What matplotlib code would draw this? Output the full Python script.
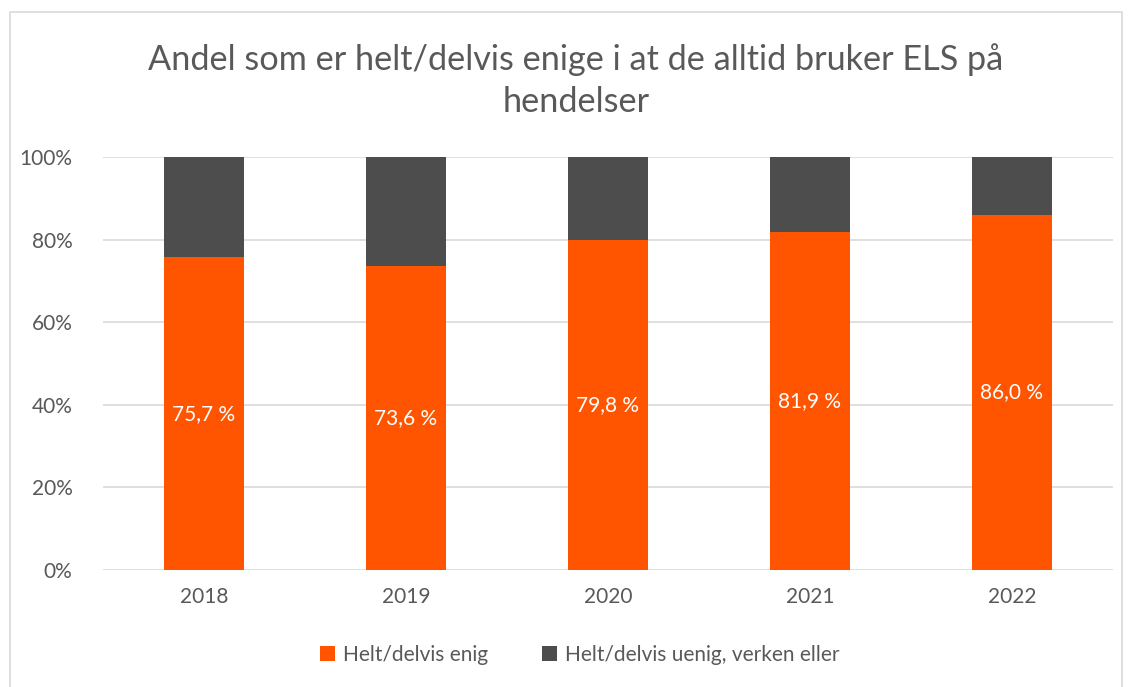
import matplotlib.pyplot as plt
from matplotlib.patches import Rectangle

years = ["2018", "2019", "2020", "2021", "2022"]
enig = [75.7, 73.6, 79.8, 81.9, 86.0]
uenig = [100 - v for v in enig]
labels = ["75,7 %", "73,6 %", "79,8 %", "81,9 %", "86,0 %"]
yticks = [0, 20, 40, 60, 80, 100]

plt.rcParams['font.family'] = ['Lato', 'DejaVu Sans']
txt = '#595959'

fig = plt.figure(figsize=(11.33, 6.87), dpi=100)
# outer chart border
fig.patches.append(Rectangle((10/1133, -0.01), 1112/1133, 675/687 + 0.01, transform=fig.transFigure,
                             fill=False, edgecolor='#D9D9D9', linewidth=1.2))

ax = fig.add_axes([103/1133, 1 - 570/687, 1010/1133, 413/687])
x = range(len(years))
ax.bar(x, enig, width=0.4, color='#FF5500', label='Helt/delvis enig', zorder=3)
ax.bar(x, uenig, width=0.4, bottom=enig, color='#4D4D4D',
       label='Helt/delvis uenig, verken eller', zorder=3)

for i, v in enumerate(enig):
    ax.text(i, v / 2, labels[i], ha='center', va='center', color='white', fontsize=15, zorder=4)

ax.set_xlim(-0.5, len(years) - 0.5)
ax.set_ylim(0, 100)
ax.set_yticks(yticks)
ax.set_yticklabels([f"{t}%" for t in yticks])
ax.set_xticks(list(x))
ax.set_xticklabels(years)
ax.tick_params(length=0, labelsize=15, colors=txt)
ax.tick_params(axis='y', pad=22)
ax.tick_params(axis='x', pad=12)
ax.grid(axis='y', color='#D9D9D9', linewidth=1.2, zorder=0)
for s in ax.spines.values():
    s.set_visible(False)

fig.text(576/1133, 1 - 60/687, "Andel som er helt/delvis enige i at de alltid bruker ELS på",
         ha='center', va='center', fontsize=24.7, color=txt)
fig.text(576/1133, 1 - 102/687, "hendelser", ha='center', va='center', fontsize=24.7, color=txt)

fig.legend(loc='center', bbox_to_anchor=(580/1133, 1 - 655/687), ncol=2, frameon=False,
           fontsize=15, labelcolor=txt, handlelength=0.7, handleheight=0.7,
           columnspacing=2.6, handletextpad=0.4)

fig.savefig('out.png', dpi=100)
